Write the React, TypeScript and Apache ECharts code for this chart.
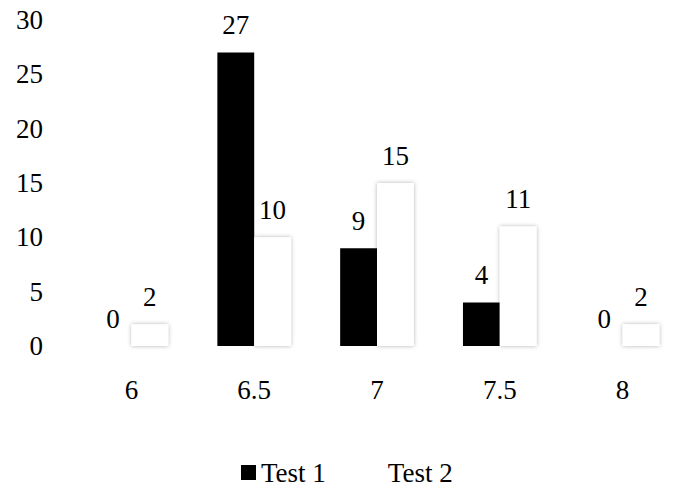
import { useEffect, useRef } from 'react';
import * as echarts from 'echarts';

const categories = ['6', '6.5', '7', '7.5', '8'];
const test1 = [0, 27, 9, 4, 0];
const test2 = [2, 10, 15, 11, 2];
const seriesNames = ['Test 1', 'Test 2'];

const FONT = '"Liberation Serif", serif';
const SIZE = 27;

export default function App() {
  const chartRef = useRef<HTMLDivElement>(null);

  useEffect(() => {
    document.body.style.margin = '0';
    if (!chartRef.current) return;
    const chart = echarts.init(chartRef.current, undefined, { renderer: 'svg' });

    const label = {
      show: true,
      position: 'top' as const,
      distance: 14,
      color: '#000',
      fontFamily: FONT,
      fontSize: SIZE,
    };

    chart.setOption({
      animation: false,
      textStyle: { fontFamily: FONT },
      grid: { left: 70, right: -13, top: 20, bottom: 141 },
      legend: {
        data: [
          { name: seriesNames[0] },
          { name: seriesNames[1], itemStyle: { shadowBlur: 0, color: '#fff' } },
        ],
        left: 236,
        top: 454,
        icon: 'rect',
        itemWidth: 15,
        itemHeight: 15,
        itemGap: 42,
        textStyle: { fontFamily: FONT, fontSize: SIZE, color: '#000' },
      },
      xAxis: {
        type: 'category',
        data: categories,
        axisLine: { show: false },
        axisTick: { show: false },
        axisLabel: { margin: 30, color: '#000', fontFamily: FONT, fontSize: SIZE },
      },
      yAxis: {
        type: 'value',
        min: 0,
        max: 30,
        interval: 5,
        axisLine: { show: false },
        axisTick: { show: false },
        splitLine: { show: false },
        axisLabel: { margin: 27, color: '#000', fontFamily: FONT, fontSize: SIZE },
      },
      series: [
        {
          name: seriesNames[0],
          type: 'bar',
          data: test1,
          barWidth: '30%',
          barGap: '0%',
          itemStyle: { color: '#000' },
          label,
        },
        {
          name: seriesNames[1],
          type: 'bar',
          data: test2,
          barWidth: '30%',
          barGap: '0%',
          itemStyle: {
            color: '#fff',
            shadowColor: 'rgba(0, 0, 0, 0.3)',
            shadowBlur: 4,
          },
          label,
        },
      ],
    });

    return () => chart.dispose();
  }, []);

  return <div ref={chartRef} style={{ width: 684, height: 487 }} />;
}
